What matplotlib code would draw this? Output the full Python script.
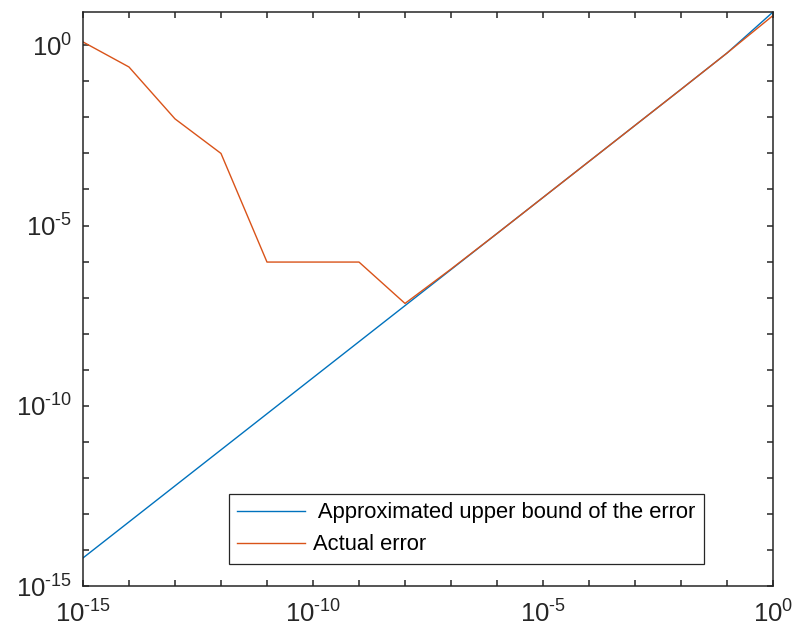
import math
import matplotlib
matplotlib.use("Agg")
import matplotlib.pyplot as plt
from matplotlib.ticker import LogLocator, FuncFormatter, NullLocator

plt.rcParams["font.family"] = ["Liberation Sans", "DejaVu Sans"]
plt.rcParams["mathtext.fontset"] = "custom"
plt.rcParams["mathtext.rm"] = "Liberation Sans"
plt.rcParams["mathtext.it"] = "Liberation Sans:italic"

# step sizes (one per decade)
h = [1e-15, 1e-14, 1e-13, 1e-12, 1e-11, 1e-10, 1e-9, 1e-8,
     1e-7, 1e-6, 1e-5, 1e-4, 1e-3, 1e-2, 1e-1, 1e0]

upper_bound = [6.0e-15, 6.0e-14, 6.0e-13, 6.0e-12, 6.0e-11, 6.0e-10, 6.0e-9, 6.0e-8,
               6.0e-7, 6.0e-6, 6.0e-5, 6.0e-4, 6.0e-3, 6.0e-2, 6.1e-1, 8.4]
actual_err = [1.24, 0.25, 9.1e-3, 1.0e-3, 9.7e-7, 9.7e-7, 9.7e-7, 6.9e-8,
              6.2e-7, 6.0e-6, 6.0e-5, 6.0e-4, 6.0e-3, 6.0e-2, 6.1e-1, 6.7]

labels = [" Approximated upper bound of the error", "Actual error"]
colors = ["#0072BD", "#D95319"]
dark = "#262626"

fig = plt.figure(figsize=(7.94, 6.30), dpi=100)
ax = fig.add_axes([0.1045, 0.0698, 0.8691, 0.9112])

ax.loglog(h, upper_bound, color=colors[0], lw=1.0, label=labels[0])
ax.loglog(h, actual_err, color=colors[1], lw=1.0, label=labels[1])

ax.set_xlim(1e-15, 1e0)
ax.set_ylim(1e-15, 8.4)

def fmt(v, pos):
    e = int(round(math.log10(v)))
    if e % 5 != 0:
        return ""
    if e < 0:
        return r"$\mathregular{10^{\text{-}%d}}$" % (-e)
    return r"$\mathregular{10^{%d}}$" % e

for axis in (ax.xaxis, ax.yaxis):
    axis.set_major_locator(LogLocator(base=10, numticks=40))
    axis.set_major_formatter(FuncFormatter(fmt))
    axis.set_minor_locator(NullLocator())

ax.tick_params(which="major", direction="in", length=4, width=1.1,
               top=True, right=True, labelsize=18.5, colors=dark,
               labelcolor=dark)
ax.tick_params(axis="x", pad=10)
ax.tick_params(axis="y", pad=8)
for s in ax.spines.values():
    s.set_color(dark)
    s.set_linewidth(1.1)

leg = ax.legend(loc="lower right", bbox_to_anchor=(0.9, 0.038),
                borderaxespad=0, fontsize=15.8, fancybox=False,
                edgecolor=dark, framealpha=1, handlelength=3.1,
                handletextpad=0.35, labelspacing=0.5, borderpad=0.4)
leg.get_frame().set_linewidth(0.9)

fig.savefig("out.png", dpi=100)
